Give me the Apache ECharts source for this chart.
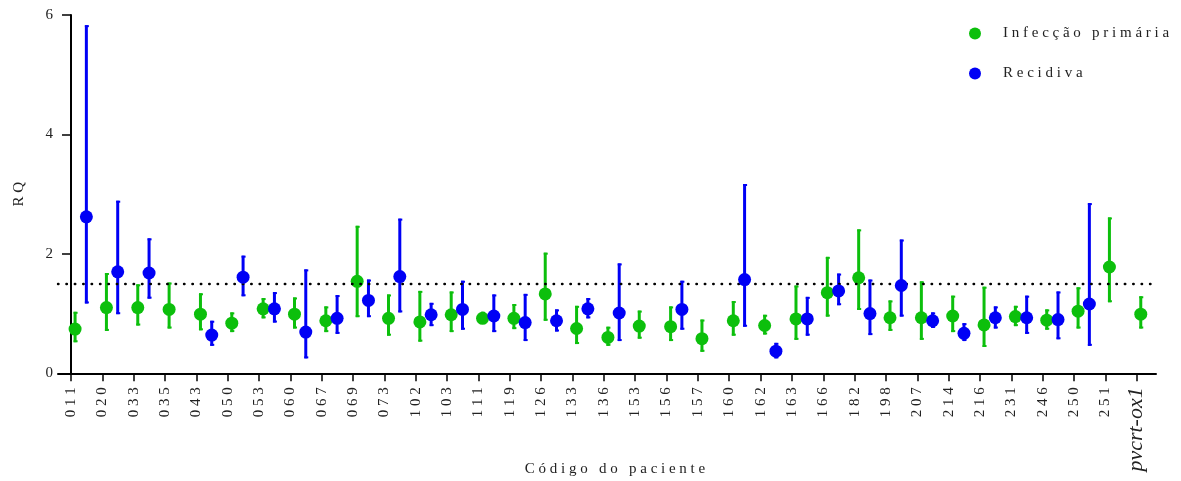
<!DOCTYPE html>
<html>
<head>
<meta charset="utf-8">
<script src="https://cdn.jsdelivr.net/npm/echarts@6/dist/echarts.min.js"></script>
<style>
  html, body { margin: 0; padding: 0; background: #fff; }
  #chart { width: 1181px; height: 481px; }
</style>
</head>
<body>
<div id="chart"></div>
<script>
// Patient codes along the x axis
const categories = ['011','020','033','035','043','050','053','060','067','069',
  '073','102','103','111','119','126','133','136','153','156',
  '157','160','162','163','166','182','198','207','214','216',
  '231','246','250','251','pvcrt-ox1'];

// Infecção primária: RQ and its lower / upper limits
const primaryRQ   = [0.74,1.10,1.10,1.07,0.99,0.84,1.08,0.99,0.88,1.54,
  0.92,0.86,0.98,0.92,0.92,1.33,0.75,0.60,0.79,0.78,
  0.58,0.88,0.80,0.91,1.35,1.60,0.93,0.93,0.96,0.81,
  0.95,0.89,1.04,1.78,0.99];
const primaryLow  = [0.52,0.71,0.80,0.75,0.72,0.69,0.92,0.75,0.69,0.94,
  0.63,0.53,0.69,0.85,0.74,0.88,0.49,0.46,0.58,0.54,
  0.36,0.63,0.65,0.56,0.95,1.06,0.71,0.56,0.69,0.44,
  0.79,0.73,0.75,1.19,0.75];
const primaryHigh = [1.03,1.68,1.49,1.52,1.34,1.02,1.26,1.27,1.12,2.47,
  1.32,1.38,1.37,1.03,1.16,2.02,1.13,0.78,1.05,1.12,
  0.90,1.21,0.98,1.47,1.95,2.41,1.22,1.54,1.30,1.45,
  1.13,1.07,1.44,2.61,1.29];

// Recidiva: RQ and its lower / upper limits (null where there is no sample)
const relapseRQ   = [2.62,1.70,1.68,null,0.64,1.61,1.08,0.69,0.92,1.22,
  1.62,0.98,1.07,0.96,0.85,0.88,1.08,1.01,null,1.07,
  null,1.57,0.37,0.91,1.38,1.00,1.47,0.88,0.67,0.93,
  0.93,0.90,1.16,null,null];
const relapseLow  = [1.17,0.99,1.25,null,0.46,1.29,0.85,0.25,0.66,0.94,
  1.02,0.79,0.73,0.69,0.54,0.70,0.92,0.54,null,0.73,
  null,0.78,0.25,0.63,1.14,0.64,0.95,0.76,0.54,0.75,
  0.66,0.57,0.46,null,null];
const relapseHigh = [5.83,2.89,2.26,null,0.88,1.97,1.36,1.74,1.31,1.57,
  2.59,1.18,1.55,1.32,1.33,1.07,1.26,1.84,null,1.55,
  null,3.17,0.51,1.28,1.67,1.57,2.24,1.02,0.84,1.12,
  1.30,1.37,2.85,null,null];

const yTicks = [0, 2, 4, 6];
const cutoff = 1.5;

const GREEN = '#0cbf0c';
const BLUE = '#0000f5';
const FONT = 'Liberation Serif';
const TEXT = '#222';

// spread letters apart, with a wider gap between words
const spaced = s => s.split(' ').map(w => w.split('').join(' ')).join('   ');

// each patient has two slots: primary slightly right of the tick, relapse further right
const PRIMARY_SHIFT = 0.13;
const RELAPSE_SHIFT = 0.49;

function points(values, shift) {
  const out = [];
  values.forEach((v, i) => { if (v !== null) out.push([i + shift, v]); });
  return out;
}
function ranges(low, high, shift) {
  const out = [];
  low.forEach((lo, i) => { if (lo !== null) out.push([i + shift, lo, high[i]]); });
  return out;
}

function errorBar(color) {
  return function (params, api) {
    const x = api.value(0);
    const top = api.coord([x, api.value(2)]);
    const bot = api.coord([x, api.value(1)]);
    const st = { stroke: color, lineWidth: 3 };
    const cap = { stroke: color, lineWidth: 2 };
    return {
      type: 'group',
      children: [
        { type: 'line', shape: { x1: top[0], y1: top[1], x2: bot[0], y2: bot[1] }, style: st },
        { type: 'line', shape: { x1: top[0] - 1.5, y1: top[1] + 1, x2: top[0] + 2.5, y2: top[1] + 1 }, style: cap },
        { type: 'line', shape: { x1: bot[0] - 1.5, y1: bot[1] - 1, x2: bot[0] + 2.5, y2: bot[1] - 1 }, style: cap }
      ]
    };
  };
}

const idx = categories.map((c, i) => i);

const chart = echarts.init(document.getElementById('chart'), null, { renderer: 'canvas' });
chart.setOption({
  backgroundColor: '#fff',
  animation: false,
  grid: { left: 58, right: 25, top: 15, bottom: 107.7, containLabel: false, outerBoundsMode: 'none' },
  legend: {
    orient: 'vertical',
    left: 964,
    top: 21,
    itemWidth: 12,
    itemHeight: 12,
    itemGap: 25,
    icon: 'circle',
    data: ['Infecção primária', 'Recidiva'],
    formatter: name => spaced(name),
    textStyle: { fontFamily: FONT, fontSize: 15, color: TEXT, padding: [0, 0, 0, 17] }
  },
  xAxis: {
    type: 'value',
    min: -0.415,
    max: 34.616,
    name: spaced('Código do paciente'),
    nameLocation: 'middle',
    nameGap: 88,
    nameMoveOverlap: false,
    nameTextStyle: { fontFamily: FONT, fontSize: 15, color: TEXT, padding: [0, 0, 0, 16] },
    axisLine: { onZero: false, lineStyle: { color: '#000', width: 2 } },
    axisTick: { customValues: idx, length: 8, lineStyle: { color: '#000', width: 1.5 } },
    axisLabel: {
      customValues: idx,
      rotate: 90,
      margin: 14,
      fontFamily: FONT,
      fontSize: 15,
      color: TEXT,
      formatter: v => {
        const c = categories[Math.round(v)];
        return c.indexOf('-') >= 0 ? '{it|' + c + '}' : c.split('').join(' ');
      },
      rich: { it: { fontFamily: FONT, fontStyle: 'italic', fontSize: 22, color: TEXT } }
    },
    splitLine: { show: false }
  },
  yAxis: {
    type: 'value',
    min: 0,
    max: 6,
    interval: 2,
    offset: -9,
    name: 'R Q',
    nameLocation: 'middle',
    nameRotate: 90,
    nameGap: 40,
    nameTextStyle: { fontFamily: FONT, fontSize: 15, color: TEXT },
    axisLine: { show: true, lineStyle: { color: '#000', width: 2 } },
    axisTick: { show: true, length: 9, lineStyle: { color: '#000', width: 1.5 } },
    axisLabel: {
      margin: 14,
      fontFamily: FONT,
      fontSize: 15,
      color: TEXT,
      customValues: yTicks
    },
    splitLine: { show: false }
  },
  series: [
    {
      name: 'Infecção primária bars',
      type: 'custom',
      renderItem: errorBar(GREEN),
      data: ranges(primaryLow, primaryHigh, PRIMARY_SHIFT),
      z: 2,
      silent: true
    },
    {
      name: 'Infecção primária',
      type: 'scatter',
      symbol: 'circle',
      symbolSize: 13,
      itemStyle: { color: GREEN, opacity: 1 },
      data: points(primaryRQ, PRIMARY_SHIFT),
      z: 3,
      markLine: {
        silent: true,
        symbol: 'none',
        label: { show: false },
        lineStyle: { color: '#000', width: 2.4, type: [0.5, 7.9], cap: 'round' },
        data: [{ yAxis: cutoff }]
      }
    },
    {
      name: 'Recidiva bars',
      type: 'custom',
      renderItem: errorBar(BLUE),
      data: ranges(relapseLow, relapseHigh, RELAPSE_SHIFT),
      z: 4,
      silent: true
    },
    {
      name: 'Recidiva',
      type: 'scatter',
      symbol: 'circle',
      symbolSize: 13,
      itemStyle: { color: BLUE, opacity: 1 },
      data: points(relapseRQ, RELAPSE_SHIFT),
      z: 5
    }
  ]
});
</script>
</body>
</html>
